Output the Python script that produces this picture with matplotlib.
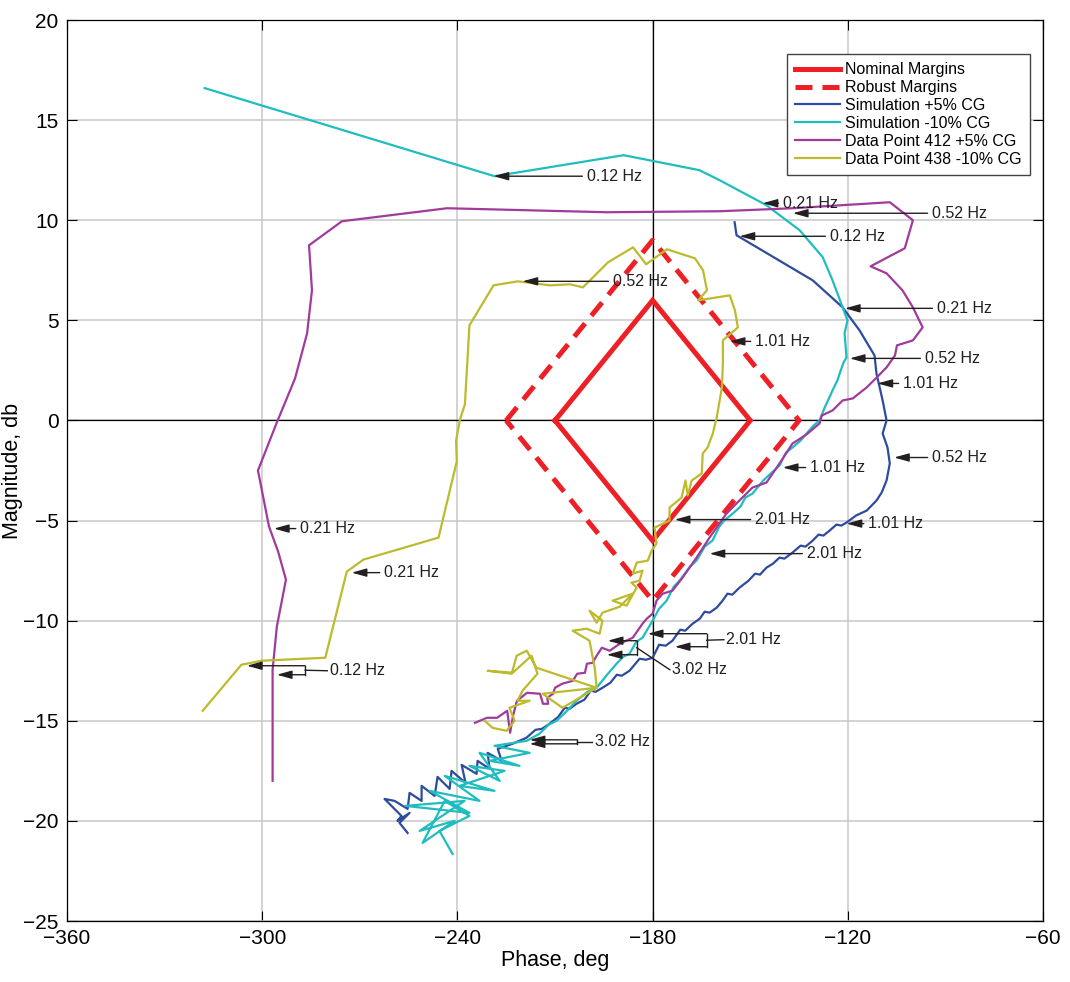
import matplotlib
matplotlib.use("Agg")
import matplotlib.pyplot as plt

plt.rcParams['font.family'] = ['Liberation Sans', 'DejaVu Sans']

# Stability margin diamonds (phase deg, magnitude dB)
nominal_phase = [-210, -180, -150, -180, -210]
nominal_mag = [0, 6, 0, -6, 0]
robust_phase = [-225, -180, -135, -180, -225]
robust_mag = [0, 9, 0, -9, 0]

# Simulation +5% CG
sim5_phase = [-154.8, -154.2, -130.8, -121.6, -116.4, -111.8, -111.2, -109.3, -108.1, -109.3,
              -107.8, -107.1, -108.1, -109.6, -111.2, -114.2, -117.5, -120.4,
              -122.0, -123.5, -125.6, -127.5, -129.0, -130.8, -133.0, -134.5, -137.0, -139.5,
              -141.0, -143.0, -145.0, -147.0, -148.5, -150.5, -153.3, -155.5, -157.0, -158.5,
              -160.3, -162.5, -164.0, -165.5, -167.7, -170.0, -171.5, -173.9, -176.0, -178.0,
              -180.0, -182.0, -184.0, -187.1, -189.5, -191.0, -193.0, -195.4, -197.5, -199.0,
              -201.0, -203.4, -205.5, -207.0, -209.0, -211.7, -214.0, -216.0, -218.8, -223.1,
              -227.6, -226.4, -230.7, -230.1, -233.8, -234.1, -238.7, -237.5, -241.8, -242.4,
              -246.1, -247.0, -251.0, -251.0, -254.7, -255.3, -259.3, -262.4, -257.2, -258.4,
              -254.7, -257.8, -255.3]
sim5_mag = [9.9, 9.25, 7.0, 5.65, 4.5, 3.25, 2.35, 1.0, 0.0, -0.65,
            -1.35, -2.15, -3.0, -3.6, -4.0, -4.5, -4.75, -5.1,
            -5.25, -5.2, -5.5, -5.75, -5.7, -6.0, -6.3, -6.25, -6.6, -6.9,
            -6.85, -7.15, -7.35, -7.7, -7.65, -8.0, -8.35, -8.7, -8.65, -9.0,
            -9.35, -9.6, -9.55, -9.9, -10.15, -10.5, -10.45, -11.0, -11.25, -11.2,
            -11.85, -11.95, -11.9, -12.5, -12.75, -12.7, -13.1, -13.35, -13.55, -13.5,
            -13.95, -14.15, -14.4, -14.35, -14.8, -15.15, -15.4, -15.45, -15.85, -16.15,
            -16.4, -17.0, -16.6, -17.4, -17.0, -17.65, -17.2, -18.1, -17.5, -18.4,
            -17.8, -18.75, -18.25, -19.0, -18.6, -19.4, -19.0, -18.9, -19.75, -20.0,
            -19.6, -20.1, -20.6]

# Simulation -10% CG
sim10_phase = [-317.7, -228.6, -188.9, -165.6, -159.4, -145.0, -134.8, -127.7, -124.7, -121.6,
               -120.1, -121.0, -120.4, -121.3, -122.5, -123.2, -124.7, -125.4, -127.1, -128.7,
               -130.5, -132.7, -134.5, -137.0, -139.0, -141.0, -144.0, -146.0, -149.3, -151.5,
               -153.0, -155.4, -158.0, -159.5, -161.6, -164.0, -166.5, -168.5, -171.7, -173.5,
               -175.7, -178.0, -180.0, -183.1, -185.0, -187.1, -189.0, -191.1, -194.0, -197.2,
               -200.0, -203.4, -206.0, -209.5, -212.0, -214.8, -218.7,
               -228.6, -217.8, -230.1, -220.9, -233.2, -227.0, -236.3, -225.5, -239.3,
               -228.6, -243.9, -233.2, -248.5, -236.3, -256.0, -237.8, -251.6, -240.9, -250.7,
               -243.9, -236.3, -245.5, -241.5]
sim10_mag = [16.6, 12.2, 13.25, 12.5, 12.0, 10.75, 9.5, 8.15, 7.0, 5.65,
             5.0, 4.35, 3.15, 2.9, 2.35, 2.0, 1.5, 1.25, 0.65, 0.0,
             -0.25, -0.65, -1.0, -1.35, -1.6, -2.25, -2.7, -3.0, -3.65, -3.85,
             -4.3, -4.65, -5.0, -5.3, -6.0, -6.3, -7.0, -7.3, -8.0, -8.3,
             -9.0, -9.4, -10.0, -10.85, -11.05, -11.65, -11.8, -12.15, -12.7, -13.35,
             -13.55, -14.0, -14.45, -15.0, -15.2, -15.65, -16.0,
             -16.25, -16.6, -17.0, -17.25, -16.6, -18.0, -17.25, -17.5, -18.25,
             -18.5, -17.75, -19.0, -18.5, -19.6, -19.25, -19.0, -20.5, -20.0, -21.1,
             -19.0, -19.75, -20.5, -21.65]

# Flight data point 412, +5% CG
dp412_phase = [-296.8, -296.8, -295.5, -292.7, -295.1, -297.9, -301.3, -295.5, -289.9, -286.2,
               -284.7, -285.6, -275.5, -243.2, -194.1, -159.4, -136.9, -107.1, -100.0, -102.5,
               -113.0, -108.1, -103.2, -100.0, -97.0, -100.0, -104.9, -105.5, -108.1, -111.1,
               -114.2, -118.5, -121.6, -124.7, -128.0, -128.7, -132.7, -137.0, -141.0, -145.0,
               -149.3, -152.4, -157.3, -162.5, -166.5, -170.8, -173.9, -176.9, -178.8, -180.0,
               -181.8, -183.1, -186.1, -190.1, -193.2, -195.6, -197.2, -198.4, -200.2, -200.8,
               -203.2, -204.5, -207.8, -210.0, -210.6, -212.4, -212.1, -213.7, -214.6, -218.6,
               -221.7, -222.9, -223.8, -224.7, -227.8, -230.9, -234.6]
dp412_mag = [-18.0, -12.45, -10.3, -7.95, -6.55, -5.3, -2.5, -0.1, 2.1, 4.35,
             6.5, 8.75, 9.95, 10.6, 10.4, 10.45, 10.6, 10.9, 10.0, 8.6,
             7.7, 7.35, 6.5, 5.65, 4.65, 4.0, 3.75, 3.25, 2.65, 2.15,
             1.65, 1.1, 1.0, 0.5, 0.25, -0.15, -0.7, -1.15, -2.15, -3.1,
             -3.35, -3.85, -4.65, -5.85, -6.85, -7.85, -8.5, -8.65, -9.0, -9.65,
             -9.9, -10.15, -10.85, -11.15, -11.5, -11.35, -11.75, -12.1, -12.15, -12.6,
             -12.65, -13.0, -13.15, -13.35, -13.65, -13.85, -14.15, -14.15, -13.65, -13.6,
             -14.0, -14.75, -15.6, -14.5, -14.85, -14.85, -15.1]

# Flight data point 438, -10% CG
dp438_phase = [-318.3, -306.4, -300.2, -280.6, -274.0, -268.9, -245.8, -240.2, -240.4, -239.2,
               -237.7, -236.3, -228.9, -221.4, -211.5, -205.4, -201.4, -193.7, -186.0, -182.0,
               -175.6, -167.0, -164.5, -163.3, -166.0, -156.3, -154.7, -153.8, -158.4, -158.4,
               -158.7, -160.3, -161.5, -163.1, -164.6, -164.9, -168.0, -169.2, -169.9, -171.1,
               -174.8, -174.8, -179.4, -178.8, -180.3,
               -181.5, -184.9, -186.1, -183.1, -184.0, -186.5, -184.9, -188.0, -192.3, -186.1,
               -190.1, -195.4, -197.2, -199.4, -195.4, -196.3, -200.3, -204.6, -199.4, -197.8,
               -197.2, -213.8, -207.7, -197.2, -215.7, -218.7, -221.8, -223.3, -230.7, -223.0,
               -217.2, -215.4, -220.0, -221.5, -217.8, -224.0, -222.4, -224.9, -229.2, -231.6]
dp438_mag = [-14.5, -12.2, -12.0, -11.85, -7.55, -6.95, -5.85, -2.05, -1.0, 0.05,
             0.8, 4.75, 6.75, 6.95, 6.75, 6.8, 6.65, 7.9, 8.65, 7.8,
             8.55, 8.1, 7.5, 6.5, 6.0, 6.25, 5.5, 4.65, 4.0, 2.85,
             1.65, 0.15, -0.65, -1.35, -1.65, -2.65, -3.0, -3.75, -3.0, -3.85,
             -4.35, -5.0, -5.35, -6.15, -6.5,
             -7.0, -7.1, -7.65, -7.5, -8.0, -8.1, -8.35, -9.25, -9.0, -8.65,
             -9.3, -9.6, -10.1, -9.5, -10.0, -10.65, -10.4, -10.5, -11.0, -12.35,
             -13.35, -13.65, -14.35, -13.35, -12.35, -11.5, -11.75, -12.65, -12.5, -12.6,
             -11.75, -12.65, -13.5, -14.0, -14.0, -14.35, -15.0, -15.5, -15.35, -15.0]

# Frequency callouts: label, arrow tip (phase, mag), text anchor phase
callout_labels = ["0.12 Hz", "0.52 Hz", "0.21 Hz", "0.52 Hz", "0.12 Hz", "0.21 Hz",
                  "1.01 Hz", "0.52 Hz", "1.01 Hz", "1.01 Hz", "0.52 Hz", "1.01 Hz",
                  "2.01 Hz", "2.01 Hz", "0.21 Hz", "0.21 Hz"]
callout_tip_phase = [-228.9, -220.0, -146.2, -136.9, -153.3, -120.9,
                     -156.3, -119.4, -110.9, -140.0, -105.8, -120.4,
                     -173.2, -162.5, -296.4, -272.5]
callout_tip_mag = [12.2, 6.95, 10.85, 10.35, 9.2, 5.6,
                   3.95, 3.1, 1.85, -2.35, -1.85, -5.15,
                   -4.95, -6.65, -5.4, -7.6]
callout_text_phase = [-200.3, -192.3, -140.0, -94.2, -125.6, -92.7,
                      -148.6, -96.4, -103.1, -131.7, -94.2, -113.8,
                      -148.6, -132.7, -288.4, -262.6]

# Paired callouts joined by a bracket: label, two tips, bracket phase, text anchor
pair_labels = ["2.01 Hz", "3.02 Hz", "3.02 Hz", "0.12 Hz"]
pair_tip1 = [(-181.5, -10.65), (-193.8, -11.0), (-217.8, -15.95), (-304.7, -12.25)]
pair_tip2 = [(-173.2, -11.3), (-194.1, -11.7), (-217.8, -16.15), (-295.5, -12.7)]
pair_bracket_phase = [-163.4, -184.9, -203.1, -286.8]
pair_text = [(-157.3, -10.95), (-173.9, -12.45), (-197.8, -16.05), (-279.2, -12.5)]

RED = '#ee2025'
BLUE = '#2e4b9e'
CYAN = '#1fbdbf'
PURPLE = '#a03b9c'
OLIVE = '#bcbb2d'
INK = '#231f20'

fig = plt.figure(figsize=(10.7, 9.82), dpi=100)
ax = fig.add_axes([0.0626, 0.0621, 0.9122, 0.9175])

ax.set_xlim(-360, -60)
ax.set_ylim(-25, 20)
ax.set_xticks(range(-360, -59, 60))
ax.set_yticks(range(-25, 21, 5))
ax.grid(True, color='#c8c8c8', linewidth=1.1)
ax.set_axisbelow(True)
ax.axhline(0, color='black', linewidth=0.9, zorder=1)
ax.axvline(-180, color='black', linewidth=0.9, zorder=1)

ax.plot(nominal_phase, nominal_mag, color=RED, linewidth=3.6, label='Nominal Margins',
        solid_joinstyle='miter')
ax.plot(robust_phase, robust_mag, color=RED, linewidth=3.6, linestyle=(0, (3.4, 2.0)),
        label='Robust Margins')
ax.plot(sim5_phase, sim5_mag, color=BLUE, linewidth=1.6, label='Simulation +5% CG')
ax.plot(sim10_phase, sim10_mag, color=CYAN, linewidth=1.6, label='Simulation -10% CG')
ax.plot(dp412_phase, dp412_mag, color=PURPLE, linewidth=1.6, label='Data Point 412 +5% CG')
ax.plot(dp438_phase, dp438_mag, color=OLIVE, linewidth=1.6, label='Data Point 438 -10% CG')

arrow_kw = dict(arrowstyle='-|>,head_length=0.9,head_width=0.25', color=INK,
                linewidth=1.0, shrinkA=1, shrinkB=0, mutation_scale=10)
FS = 11.5

for lab, tp, tm, xp in zip(callout_labels, callout_tip_phase, callout_tip_mag,
                           callout_text_phase):
    ax.annotate(lab, xy=(tp, tm), xytext=(xp, tm), ha='left', va='center',
                fontsize=FS, color=INK, arrowprops=arrow_kw, zorder=6)

for lab, t1, t2, bx, (txp, tym) in zip(pair_labels, pair_tip1, pair_tip2,
                                       pair_bracket_phase, pair_text):
    ax.plot([bx, bx], [t1[1], t2[1]], color=INK, linewidth=1.0, zorder=6)
    for tip in (t1, t2):
        ax.annotate('', xy=tip, xytext=(bx, tip[1]),
                    arrowprops=dict(arrow_kw, shrinkA=0), zorder=6)
    ymid = 0.5 * (t1[1] + t2[1])
    ax.plot([bx, txp - 0.8], [ymid, tym], color=INK, linewidth=1.0, zorder=6)
    ax.text(txp, tym, lab, ha='left', va='center', fontsize=FS, color=INK, zorder=6)

ax.tick_params(direction='in', length=7, width=0.8, top=True, right=True,
               labelsize=15, pad=6, colors='black')
for s in ax.spines.values():
    s.set_linewidth(0.9)

ax.set_xlabel('Phase, deg', fontsize=15.5, labelpad=1)
ax.set_ylabel('Magnitude, db', fontsize=15.5, labelpad=0)

leg = ax.legend(loc='upper right', bbox_to_anchor=(0.9867, 0.962), borderaxespad=0,
                fontsize=11.5, handlelength=2.8, labelspacing=0.18, handletextpad=0.35,
                borderpad=0.5, fancybox=False, framealpha=1, edgecolor='#444444')
leg.get_frame().set_linewidth(1.0)

fig.savefig('out.png', dpi=100)
